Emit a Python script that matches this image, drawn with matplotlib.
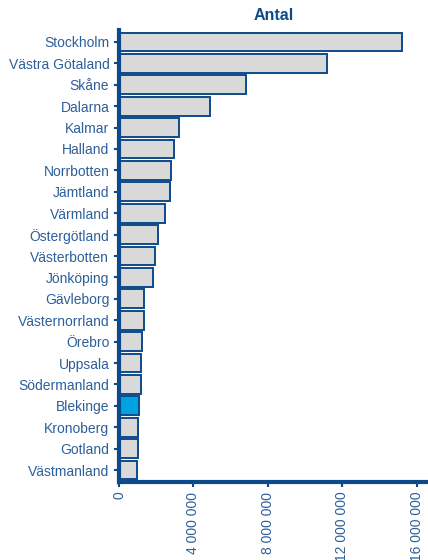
import numpy as np
import matplotlib.pyplot as plt
from matplotlib.ticker import FuncFormatter

# data (Antal per län)
lan = ['Stockholm', 'Västra Götaland', 'Skåne', 'Dalarna', 'Kalmar', 'Halland',
       'Norrbotten', 'Jämtland', 'Värmland', 'Östergötland', 'Västerbotten',
       'Jönköping', 'Gävleborg', 'Västernorrland', 'Örebro', 'Uppsala',
       'Södermanland', 'Blekinge', 'Kronoberg', 'Gotland', 'Västmanland']
antal = [15180000, 11170000, 6830000, 4890000, 3240000, 2960000,
         2780000, 2740000, 2470000, 2080000, 1950000,
         1840000, 1360000, 1340000, 1240000, 1180000,
         1180000, 1090000, 1040000, 1000000, 970000]
highlight = 'Blekinge'
xticks = [0, 4000000, 8000000, 12000000, 16000000]

dark = '#0d4a8c'
txt = '#2e5f9b'

plt.rcParams['font.family'] = ['Liberation Sans', 'DejaVu Sans']

fig = plt.figure(figsize=(4.28, 5.6), dpi=100)
ax = fig.add_axes([119/428, 1-482/560, 309/428, 452/560])

y = np.arange(len(lan))
colors = ['#00a3e0' if l == highlight else '#d9d9d9' for l in lan]
ax.barh(y, antal, height=0.88, color=colors, edgecolor=dark, linewidth=1.4)

ax.set_ylim(len(lan) - 0.44, -0.56)
ax.set_xlim(0, 16.6e6)
ax.set_yticks(y)
ax.set_yticklabels(lan, fontsize=10, color=txt)
ax.set_xticks(xticks)
ax.xaxis.set_major_formatter(FuncFormatter(lambda v, p: f'{int(v):,}'.replace(',', ' ')))
for lab in ax.get_xticklabels():
    lab.set_rotation(90)
    lab.set_fontsize(10)
    lab.set_color(txt)

for s in ['top', 'right']:
    ax.spines[s].set_visible(False)
for s in ['left', 'bottom']:
    ax.spines[s].set_color(dark)
    ax.spines[s].set_linewidth(3)
ax.tick_params(axis='both', color=dark, length=3.5, width=1.5)

ax.set_title('Antal', fontsize=11.5, fontweight='bold', color=dark, pad=7)

fig.savefig('out.png', dpi=100)
